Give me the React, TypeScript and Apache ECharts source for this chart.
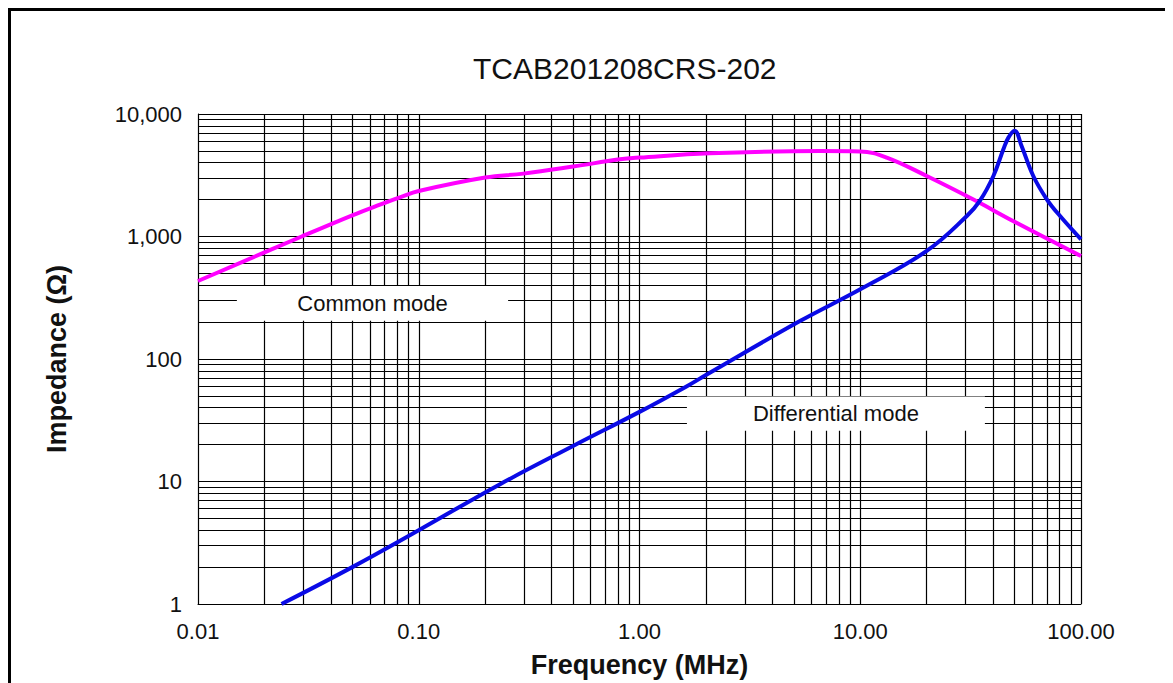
import React, { useEffect, useRef } from "react";
import * as echarts from "echarts";

const TITLE = "TCAB201208CRS-202";
const X_NAME = "Frequency (MHz)";
const Y_NAME = "Impedance (Ω)";
const X_DECADES = [0.01, 0.1, 1, 10, 100];
const Y_DECADES = [1, 10, 100, 1000, 10000];
const GRID_MULTIPLIERS = [1, 2, 3, 4, 5, 6, 7, 8, 9];

const COMMON_LABEL = "Common mode";
const DIFF_LABEL = "Differential mode";

// Common mode impedance (MHz, ohm)
const commonFreq = [0.01, 0.0295, 0.05, 0.0667, 0.0822, 0.1, 0.2, 0.298, 0.5, 0.816, 1, 2.08, 6.57, 10, 13.18, 20, 32.4, 49.2, 100];
const commonZ = [433, 1000, 1490, 1820, 2089, 2351, 3027, 3260, 3722, 4267, 4406, 4778, 4990, 4950, 4406, 3118, 2013, 1339, 693];

// Differential mode impedance (MHz, ohm)
const diffFreq = [0.0239, 0.05, 0.1, 0.2335, 0.5, 1, 1.64, 2, 5.33, 10, 20, 30.4, 34.8, 40.1, 44.5, 46.9, 50, 53.8, 60.8, 70, 80.4, 100];
const diffZ = [1, 2.0, 4.0, 9.5, 19.5, 37, 60, 74, 204, 371, 762, 1469, 1950, 3118, 5150, 6415, 7300, 5480, 3118, 2013, 1469, 949];

const FONT = '"Liberation Sans", Arial, sans-serif';

function gridValues(decades: number[]) {
  const out: number[] = [];
  for (let i = 0; i < decades.length - 1; i++) {
    for (const m of GRID_MULTIPLIERS) out.push(+(decades[i] * m).toPrecision(3));
  }
  out.push(decades[decades.length - 1]);
  return out;
}

export default function App() {
  const ref = useRef<HTMLDivElement>(null);
  useEffect(() => {
    if (!ref.current) return;
    const chart = echarts.init(ref.current, null, { renderer: "svg" });
    const xGrid = gridValues(X_DECADES);
    const yGrid = gridValues(Y_DECADES);
    const option: any = {
      animation: false,
      backgroundColor: "#fff",
      title: {
        text: TITLE,
        left: 460,
        top: 40,
        textStyle: { fontSize: 30, fontWeight: "normal", color: "#111", fontFamily: FONT },
      },
      graphic: [
        { type: "line", shape: { x1: 0, y1: 1.5, x2: 1165, y2: 1.5 }, style: { stroke: "#000", lineWidth: 3 } },
        { type: "line", shape: { x1: 1.5, y1: 0, x2: 1.5, y2: 675 }, style: { stroke: "#000", lineWidth: 3 } },
      ],
      grid: { left: 190, top: 106, width: 883, height: 490.5, containLabel: false },
      xAxis: {
        type: "log",
        logBase: 10,
        min: X_DECADES[0],
        max: X_DECADES[X_DECADES.length - 1],
        axisLine: { show: true, lineStyle: { color: "#000", width: 1 } },
        axisTick: { show: false },
        splitLine: { show: false },
        axisLabel: {
          formatter: (v: number) => v.toFixed(2),
          fontSize: 22,
          color: "#111",
          fontFamily: FONT,
          margin: 16,
        },
        name: X_NAME,
        nameLocation: "middle",
        nameGap: 47,
        nameTextStyle: { fontSize: 27, fontWeight: "bold", color: "#111", fontFamily: FONT },
      },
      yAxis: {
        type: "log",
        logBase: 10,
        min: Y_DECADES[0],
        max: Y_DECADES[Y_DECADES.length - 1],
        axisLine: { show: true, lineStyle: { color: "#000", width: 1 } },
        axisTick: { show: false },
        splitLine: { show: false },
        axisLabel: {
          formatter: (v: number) => Math.round(v).toLocaleString("en-US"),
          fontSize: 22,
          color: "#111",
          fontFamily: FONT,
          margin: 16,
        },
        name: Y_NAME,
        nameLocation: "middle",
        nameRotate: 90,
        nameGap: 128,
        nameTextStyle: { fontSize: 27, fontWeight: "bold", color: "#111", fontFamily: FONT },
      },
      series: [
        {
          type: "line",
          name: "grid",
          data: [],
          silent: true,
          z: 1,
          markLine: {
            silent: true,
            z: 1,
            animation: false,
            symbol: ["none", "none"],
            label: { show: false },
            emphasis: { disabled: true },
            lineStyle: { color: "#000", width: 1.2, type: "solid" },
            data: [...xGrid.map((v) => ({ xAxis: v })), ...yGrid.map((v) => ({ yAxis: v }))],
          },
        },
        {
          type: "line",
          name: "labels",
          data: [],
          silent: true,
          z: 2,
          markArea: {
            silent: true,
            z: 2,
            animation: false,
            itemStyle: { color: "#fff" },
            emphasis: { disabled: true },
            label: { show: true, position: "inside", color: "#111", fontSize: 22, fontFamily: FONT },
            data: [
              [{ name: COMMON_LABEL, xAxis: 0.015, yAxis: 205 }, { xAxis: 0.254, yAxis: 395 }],
              [{ name: DIFF_LABEL, xAxis: 1.64, yAxis: 26 }, { xAxis: 36.7, yAxis: 49.5 }],
            ],
          },
        },
        {
          type: "line",
          name: COMMON_LABEL,
          data: commonFreq.map((f, i) => [f, commonZ[i]]),
          showSymbol: false,
          symbol: "none",
          smooth: 0.4,
          lineStyle: { color: "#FF00FF", width: 4 },
          z: 10,
        },
        {
          type: "line",
          name: DIFF_LABEL,
          data: diffFreq.map((f, i) => [f, diffZ[i]]),
          showSymbol: false,
          symbol: "none",
          smooth: 0.4,
          lineStyle: { color: "#0A0AE6", width: 4 },
          z: 11,
        },
      ],
    };
    chart.setOption(option);
    return () => chart.dispose();
  }, []);
  return <div ref={ref} style={{ width: 1165, height: 675 }} />;
}
